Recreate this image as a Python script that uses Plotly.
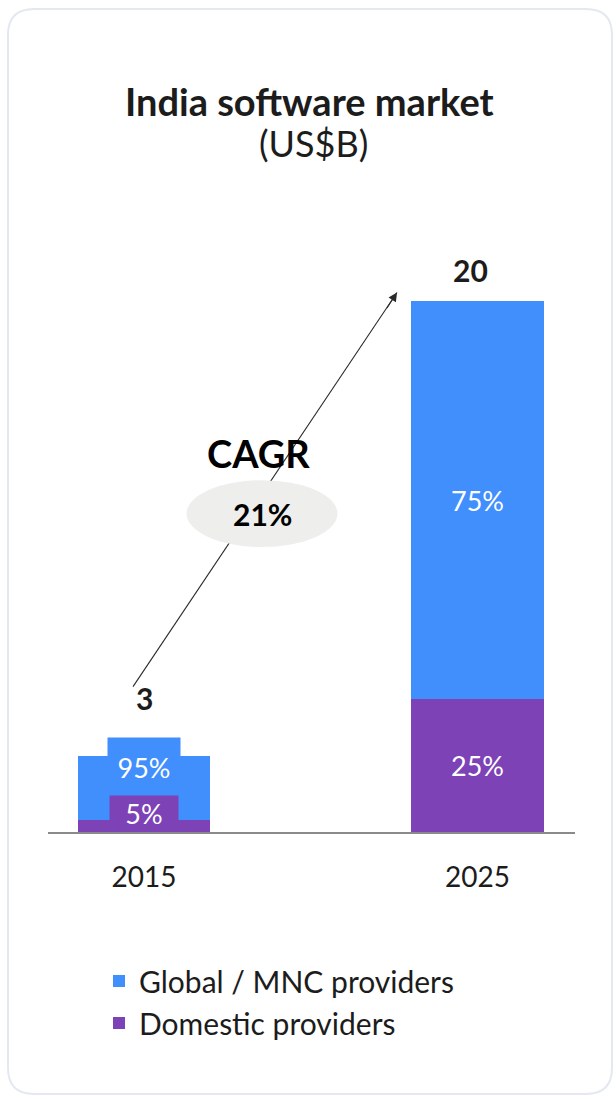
import plotly.graph_objects as go

# ---------------- data ----------------
years = ["2015", "2025"]
totals = [3, 20]
global_vals = [2.4, 15.0]       # Global / MNC providers (as drawn)
domestic_vals = [0.45, 5.0]     # Domestic providers (as drawn)
global_share = ["95%", "75%"]
domestic_share = ["5%", "25%"]
cagr_label = "21%"
series_names = ["Global / MNC providers", "Domestic providers"]

# ---------------- style ----------------
BLUE = "#418FFD"
PURPLE = "#7D42B6"
DARK = "#1c1c1c"
FONT = "Lato"
W, H = 616, 1099
ML, MR, MT, MB = 48, 41, 89, 267
YMAX = 28
XR = [-0.288, 1.2924]
BARW = 0.396

fig = go.Figure()
fig.add_trace(go.Bar(x=years, y=domestic_vals, name=series_names[1],
                     marker=dict(color=PURPLE, line=dict(width=0)), width=BARW,
                     hoverinfo="skip"))
fig.add_trace(go.Bar(x=years, y=global_vals, name=series_names[0],
                     marker=dict(color=BLUE, line=dict(width=0)), width=BARW,
                     hoverinfo="skip"))

stack_top = [g + d for g, d in zip(global_vals, domestic_vals)]
ann = []

# 2015 labels on tabs
ann.append(dict(x=0, y=stack_top[0], xref="x", yref="y", text=global_share[0],
                showarrow=False, yanchor="top", yshift=19, width=72, height=58,
                bgcolor=BLUE, borderpad=0, valign="middle",
                font=dict(family=FONT, size=27, color="white")))
ann.append(dict(x=0, y=0, xref="x", yref="y", text=domestic_share[0],
                showarrow=False, yanchor="bottom", yshift=1, width=68, height=34,
                bgcolor=PURPLE, borderpad=0, valign="bottom",
                font=dict(family=FONT, size=27, color="white")))
# 2025 labels inside segments
ann.append(dict(x=1, y=domestic_vals[1] + global_vals[1] / 2, xref="x", yref="y",
                text=global_share[1], showarrow=False,
                font=dict(family=FONT, size=27, color="white")))
ann.append(dict(x=1, y=domestic_vals[1] / 2, xref="x", yref="y",
                text=domestic_share[1], showarrow=False,
                font=dict(family=FONT, size=27, color="white")))
# totals
tot_shift = [58, 31]
tot_xshift = [0, -7]
for i in range(2):
    ann.append(dict(x=i, y=stack_top[i], xref="x", yref="y",
                    text="<b>%d</b>" % totals[i], showarrow=False,
                    yshift=tot_shift[i], xshift=tot_xshift[i],
                    font=dict(family=FONT, size=30, color=DARK)))

# arrow (start near 2015 total, end near 2025 total)
x0a, y0a = 0 - 0.033, totals[0] + 2.48
x1a, y1a = 1 - 0.2414, totals[1] + 0.33
shapes = []
shapes.append(dict(type="line", xref="x", yref="y", x0=x0a, y0=y0a, x1=x1a, y1=y1a,
                   line=dict(color="#2a2a2a", width=1.1), layer="above"))
# CAGR ellipse
shapes.append(dict(type="circle", xref="x", yref="y", x0=0.1274, x1=0.5802,
                   y0=10.74, y1=13.26, fillcolor="#EEEEEC", line=dict(width=0),
                   layer="above"))
ann.append(dict(x=x1a, y=y1a, xref="x", yref="y", text="", showarrow=True,
                ax=-11, ay=17, arrowhead=2, arrowsize=1.6, arrowwidth=1.1,
                arrowcolor="#2a2a2a"))
ann.append(dict(x=0.342, y=14.3, xref="x", yref="y", text="<b>CAGR</b>",
                showarrow=False, font=dict(family=FONT, size=38, color="black")))
ann.append(dict(x=0.354, y=12.0, xref="x", yref="y", text="<b>%s</b>" % cagr_label,
                showarrow=False, font=dict(family=FONT, size=30, color="black")))

# titles (paper coords)
def px_to_paper_x(px):
    return (px - ML) / (W - ML - MR)

def px_to_paper_y(py):
    return (H - MB - py) / (H - MT - MB)

ann.append(dict(x=px_to_paper_x(309), y=px_to_paper_y(101), xref="paper", yref="paper",
                xanchor="center", yanchor="middle",
                text="<b>India software market</b>", showarrow=False,
                font=dict(family=FONT, size=38, color=DARK)))
ann.append(dict(x=px_to_paper_x(313), y=px_to_paper_y(143), xref="paper", yref="paper",
                xanchor="center", yanchor="middle",
                text="(US$B)", showarrow=False,
                font=dict(family=FONT, size=36, color=DARK)))

# card border
cx0, cy0, cx1, cy1, r = 8, 9, 612, 1094, 26
def P(px, py):
    return "%f,%f" % (px_to_paper_x(px), px_to_paper_y(py))
path = ("M" + P(cx0 + r, cy0) + " L" + P(cx1 - r, cy0) +
        " Q" + P(cx1, cy0) + " " + P(cx1, cy0 + r) +
        " L" + P(cx1, cy1 - r) + " Q" + P(cx1, cy1) + " " + P(cx1 - r, cy1) +
        " L" + P(cx0 + r, cy1) + " Q" + P(cx0, cy1) + " " + P(cx0, cy1 - r) +
        " L" + P(cx0, cy0 + r) + " Q" + P(cx0, cy0) + " " + P(cx0 + r, cy0) + " Z")
shapes.append(dict(type="path", xref="paper", yref="paper", path=path,
                   line=dict(color="#E3E8F1", width=2), fillcolor="rgba(0,0,0,0)",
                   layer="below"))

fig.update_layout(
    width=W, height=H,
    margin=dict(l=ML, r=MR, t=MT, b=MB),
    barmode="stack",
    paper_bgcolor="white", plot_bgcolor="white",
    showlegend=True,
    legend=dict(x=px_to_paper_x(99), y=px_to_paper_y(955), xanchor="left", yanchor="top",
                traceorder="reversed", font=dict(family=FONT, size=30, color=DARK),
                bgcolor="rgba(0,0,0,0)", itemclick=False, itemdoubleclick=False),
    xaxis=dict(type="category", range=XR, showgrid=False, zeroline=False,
               showline=True, linecolor="#8a8a8a", linewidth=1.5,
               ticks="", ticklabelstandoff=20,
               tickfont=dict(family=FONT, size=28, color=DARK), fixedrange=True),
    yaxis=dict(range=[0, YMAX], visible=False, fixedrange=True),
    annotations=ann,
    shapes=shapes,
)

fig.write_html("out.html", config={"displayModeBar": False})
